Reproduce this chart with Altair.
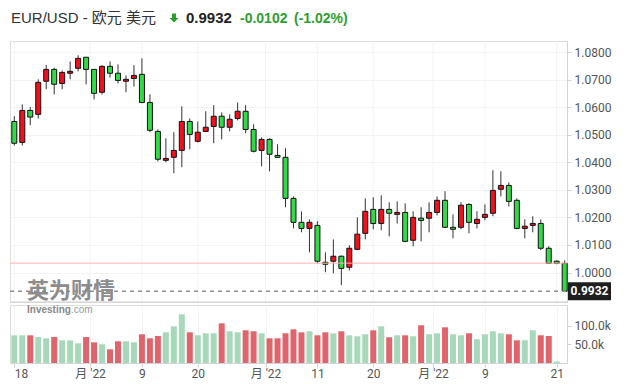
import json
import altair as alt
import pandas as pd

# ---------------- data ----------------
opens = [1.0548, 1.0472, 1.0588, 1.0574, 1.0694, 1.0737, 1.0686, 1.0723, 1.0741, 1.0781,
         1.0737, 1.0654, 1.0748, 1.0723, 1.0694, 1.0704, 1.0719, 1.0617, 1.0512, 1.0407,
         1.0418, 1.0443, 1.0548, 1.0476, 1.0512, 1.0530, 1.0567, 1.0527, 1.0559, 1.0585,
         1.0519, 1.0443, 1.0483, 1.0425, 1.0418, 1.0269, 1.0182, 1.0160, 1.0171, 1.0037,
         1.0041, 1.0059, 1.0019, 1.0084, 1.0142, 1.0229, 1.0178, 1.0229, 1.0211, 1.0218,
         1.0117, 1.0197, 1.0197, 1.0218, 1.0262, 1.0164, 1.0164, 1.0247, 1.0178, 1.0200,
         1.0215, 1.0302, 1.0316, 1.0262, 1.0160, 1.0171, 1.0178, 1.0088, 1.0041, 1.0033]
closes = [1.0469, 1.0588, 1.0564, 1.0690, 1.0737, 1.0683, 1.0726, 1.0730, 1.0777, 1.0737,
          1.0650, 1.0748, 1.0723, 1.0697, 1.0701, 1.0715, 1.0617, 1.0516, 1.0411, 1.0414,
          1.0443, 1.0548, 1.0501, 1.0509, 1.0527, 1.0567, 1.0527, 1.0556, 1.0585, 1.0519,
          1.0440, 1.0483, 1.0429, 1.0418, 1.0269, 1.0182, 1.0160, 1.0182, 1.0041, 1.0030,
          1.0059, 1.0015, 1.0088, 1.0139, 1.0222, 1.0178, 1.0229, 1.0215, 1.0218, 1.0113,
          1.0200, 1.0189, 1.0218, 1.0262, 1.0164, 1.0157, 1.0244, 1.0182, 1.0193, 1.0211,
          1.0298, 1.0316, 1.0258, 1.0160, 1.0168, 1.0178, 1.0088, 1.0033, 1.0033, 0.9932]
highs = [1.0567, 1.0610, 1.0600, 1.0701, 1.0753, 1.0743, 1.0733, 1.0766, 1.0788, 1.0781,
         1.0737, 1.0752, 1.0766, 1.0755, 1.0715, 1.0752, 1.0777, 1.0646, 1.0519, 1.0487,
         1.0509, 1.0603, 1.0559, 1.0548, 1.0585, 1.0607, 1.0581, 1.0574, 1.0617, 1.0607,
         1.0538, 1.0490, 1.0487, 1.0465, 1.0451, 1.0276, 1.0222, 1.0193, 1.0186, 1.0073,
         1.0120, 1.0062, 1.0099, 1.0200, 1.0269, 1.0273, 1.0280, 1.0255, 1.0258, 1.0251,
         1.0222, 1.0237, 1.0255, 1.0276, 1.0295, 1.0211, 1.0255, 1.0251, 1.0222, 1.0247,
         1.0371, 1.0367, 1.0327, 1.0269, 1.0193, 1.0204, 1.0193, 1.0095, 1.0044, 1.0044]
lows = [1.0461, 1.0461, 1.0535, 1.0559, 1.0665, 1.0646, 1.0665, 1.0701, 1.0730, 1.0683,
        1.0628, 1.0646, 1.0707, 1.0686, 1.0654, 1.0675, 1.0614, 1.0509, 1.0403, 1.0400,
        1.0360, 1.0382, 1.0447, 1.0472, 1.0510, 1.0469, 1.0483, 1.0512, 1.0552, 1.0505,
        1.0436, 1.0385, 1.0367, 1.0417, 1.0237, 1.0160, 1.0146, 1.0073, 1.0033, 1.0001,
        0.9997, 0.9954, 1.0008, 1.0081, 1.0120, 1.0157, 1.0153, 1.0131, 1.0178, 1.0110,
        1.0095, 1.0113, 1.0146, 1.0207, 1.0162, 1.0124, 1.0157, 1.0142, 1.0160, 1.0189,
        1.0204, 1.0276, 1.0240, 1.0157, 1.0124, 1.0146, 1.0081, 1.0033, 1.0030, 0.9931]

volumes_k = [74, 74, 74, 69.5, 66, 69.5, 60.6, 60.6, 52.6, 69.5,
             55.3, 50, 36.6, 58, 58, 55.3, 76.7, 66, 72.2, 82,
             98, 130, 82, 74, 79.4, 79.4, 106, 84.7, 82, 87.4,
             84.7, 79.4, 66, 66, 79.4, 90, 82, 84.7, 74, 82,
             79.4, 84.7, 74, 71.4, 76.7, 87.4, 98, 68.7, 74, 74,
             71.4, 100.8, 76.7, 79.4, 95.4, 76.7, 74, 79.4, 63.4, 76.7,
             84.7, 79.4, 76.7, 60.6, 60.6, 87.4, 74, 72.2, 4]
volume_side = ['g', 'g', 'r', 'g', 'g', 'r', 'g', 'g', 'g', 'r',
               'r', 'g', 'r', 'r', 'g', 'g', 'r', 'r', 'r', 'g',
               'g', 'g', 'r', 'g', 'g', 'g', 'r', 'g', 'g', 'r',
               'r', 'g', 'r', 'r', 'r', 'r', 'r', 'g', 'r', 'r',
               'g', 'r', 'g', 'g', 'g', 'r', 'g', 'r', 'g', 'r',
               'g', 'r', 'g', 'g', 'r', 'g', 'g', 'r', 'g', 'g',
               'g', 'g', 'r', 'r', 'g', 'g', 'r', 'r', 'g']

tick_pos = [0, 9.5, 16, 23, 31.5, 38, 45, 52.5, 59, 68]
tick_labels = ["18", "月 '22", "9", "20", "月 '22", "11", "20", "月 '22", "9", "21"]
price_ticks = [1.00, 1.01, 1.02, 1.03, 1.04, 1.05, 1.06, 1.07, 1.08]
volume_ticks = [50000, 100000]

last_price = 0.9932
change = -0.0102
change_pct = -1.02
prev_close = round(last_price - change, 4)

title_main = "EUR/USD - 欧元 美元"
watermark_cn = "英为财情"
watermark_en1 = "Investing"
watermark_en2 = ".com"

# ---------------- styling ----------------
GREEN = "#33d946"
RED = "#f0101e"
VOL_GREEN = "#a8d8ba"
VOL_RED = "#e0646c"
GRID = "#f3f3f3"
AXIS = "#d4d4d4"
LABEL = "#555555"
FONT = "Roboto, Liberation Sans, Noto Sans CJK SC"
TFONT = "Liberation Sans, Noto Sans CJK SC"

W = 557
H_PRICE = 261
H_VOL = 58

df = pd.DataFrame({
    "i": list(range(len(opens))),
    "open": opens, "high": highs, "low": lows, "close": closes,
})
df["fill"] = [GREEN if c < o else RED for o, c in zip(opens, closes)]

vdf = pd.DataFrame({
    "i": list(range(len(volumes_k))),
    "vol": [v * 1000 for v in volumes_k],
    "color": [VOL_GREEN if s == "g" else VOL_RED for s in volume_side],
})
tdf = pd.DataFrame({"t": tick_pos})
one = pd.DataFrame({"k": [0]})

xscale = alt.Scale(domain=[-0.54, 69.29], nice=False, zero=False, padding=0)
yscale = alt.Scale(domain=[0.9893, 1.0840], nice=False, zero=False, padding=0)
vscale = alt.Scale(domain=[0, 155000], nice=False, zero=False, padding=0)

label_expr = " : ".join(
    f"datum.value == {p} ? {json.dumps(l)}" for p, l in zip(tick_pos, tick_labels)
) + " : ''"

x_vol_axis = alt.Axis(values=tick_pos, grid=True, gridColor=GRID, labelExpr=label_expr,
                      ticks=True, tickColor=AXIS, tickSize=4, domain=True, domainColor=AXIS,
                      labelColor=LABEL, labelFontSize=12, labelFont=FONT, labelPadding=1,
                      labelAlign={"condition": {"test": "datum.value == 0", "value": "left"},
                                  "value": "center"},
                      labelFlush=False, labelOverlap=False, title=None)

y_price_axis = alt.Axis(orient="right", values=price_ticks, format=".4f", grid=True,
                        gridColor=GRID, domainColor=AXIS, tickColor=AXIS, tickSize=4,
                        labelColor=LABEL, labelFontSize=12, labelFont=FONT, labelPadding=3,
                        labelOverlap=False, title=None)
y_vol_axis = alt.Axis(orient="right", values=volume_ticks, grid=False, domainColor=AXIS,
                      tickColor=AXIS, tickSize=4, labelColor=LABEL, labelFontSize=12,
                      labelFont=FONT, labelPadding=3, labelOverlap=False,
                      labelExpr="format(datum.value / 1000, '.1f') + 'k'", title=None)


def Y(field):
    return alt.Y(field, scale=yscale, axis=y_price_axis)


# vertical grid of the price panel
vgrid = alt.Chart(tdf).mark_rule(color=GRID, strokeWidth=1).encode(
    x=alt.X("t:Q", scale=xscale, axis=None), y=alt.value(0), y2=alt.value(H_PRICE))

base = alt.Chart(df).encode(x=alt.X("i:Q", scale=xscale, axis=None))

wicks = base.mark_rule(color="#333333", strokeWidth=1).encode(y=Y("low:Q"), y2="high:Q")
bodies = base.mark_bar(width=5, stroke="#111111", strokeWidth=1).encode(
    y=Y("open:Q"), y2="close:Q", fill=alt.Fill("fill:N", scale=None))

lines_df = pd.DataFrame({"p": [prev_close]})
last_df = pd.DataFrame({"p": [last_price], "txt": [f"{last_price:.4f}"]})

prev_line = alt.Chart(lines_df).mark_rule(color="#ffb3b3", strokeWidth=1).encode(
    y=Y("p:Q"), x=alt.value(0), x2=alt.value(W))
last_line = alt.Chart(last_df).mark_rule(color="#8f8f8f", strokeWidth=1.5,
                                         strokeDash=[4, 4]).encode(
    y=Y("p:Q"), x=alt.value(0), x2=alt.value(W))
sep_line = alt.Chart(one).mark_rule(color="#cfcfcf", strokeWidth=1).encode(
    x=alt.value(0), x2=alt.value(W), y=alt.value(H_PRICE))
tag = alt.Chart(last_df).mark_rect(color="#1e1e1e", yOffset=-9, y2Offset=9).encode(
    y=Y("p:Q"), y2="p:Q", x=alt.value(558), x2=alt.value(601))
tag_text = alt.Chart(last_df).mark_text(color="white", fontWeight="bold", fontSize=12,
                                        font=FONT, align="center", baseline="middle").encode(
    y=Y("p:Q"), x=alt.value(579.5), text="txt:N")

t_main = alt.Chart(one).mark_text(text=title_main, font=TFONT, fontSize=15, color="#333333",
                                  align="left", baseline="alphabetic").encode(
    x=alt.value(1), y=alt.value(-18))
arrow = alt.Chart(one).mark_point(
    shape="M-0.45,-1L0.45,-1L0.45,0L1,0L0,1L-1,0L-0.45,0Z", filled=True, opacity=1,
    color="#2a9d2a", size=80, strokeWidth=0).encode(x=alt.value(164), y=alt.value(-23))
t_price = alt.Chart(one).mark_text(text=f"{last_price:.4f}", font=TFONT, fontSize=15,
                                   fontWeight="bold", color="#222222", align="left",
                                   baseline="alphabetic").encode(
    x=alt.value(176), y=alt.value(-18))
t_chg = alt.Chart(one).mark_text(text=f"{change:.4f}", font=TFONT, fontSize=14,
                                 fontWeight="bold", color="#2e9e30", align="left",
                                 baseline="alphabetic").encode(
    x=alt.value(230), y=alt.value(-18))
t_pct = alt.Chart(one).mark_text(text=f"({change_pct:.2f}%)", font=TFONT, fontSize=14,
                                 fontWeight="bold", color="#2e9e30", align="left",
                                 baseline="alphabetic").encode(
    x=alt.value(284), y=alt.value(-18))

wm_cn = alt.Chart(one).mark_text(text=watermark_cn, font="Noto Sans CJK SC", fontSize=22,
                                 fontWeight="bold", color="#8c8c8c", align="left",
                                 baseline="alphabetic", clip=True).encode(
    x=alt.value(17), y=alt.value(257))
wm_en1 = alt.Chart(one).mark_text(text=watermark_en1, font=TFONT, fontSize=10,
                                  fontWeight="bold", color="#888888", align="left",
                                  baseline="alphabetic", clip=True).encode(
    x=alt.value(17), y=alt.value(7.5))
wm_en2 = alt.Chart(one).mark_text(text=watermark_en2, font=TFONT, fontSize=10,
                                  color="#9a9a9a", align="left",
                                  baseline="alphabetic", clip=True).encode(
    x=alt.value(61), y=alt.value(7.5))

price = alt.layer(vgrid, wicks, bodies, prev_line, last_line, sep_line, tag, tag_text,
                  t_main, arrow, t_price, t_chg, t_pct, wm_cn).properties(
    width=W, height=H_PRICE)

vbars = alt.Chart(vdf).mark_bar(width=6).encode(
    x=alt.X("i:Q", scale=xscale, axis=x_vol_axis),
    y=alt.Y("vol:Q", scale=vscale, axis=y_vol_axis),
    color=alt.Color("color:N", scale=None),
)
volume = alt.layer(vbars, wm_en1, wm_en2).properties(width=W, height=H_VOL)

chart = alt.vconcat(price, volume, spacing=1).properties(
    padding={"top": 2, "left": 0, "right": 0, "bottom": 0}
).configure_view(stroke=None).configure(background="white")

chart.save("out.html", embed_options={"renderer": "svg", "actions": False})
